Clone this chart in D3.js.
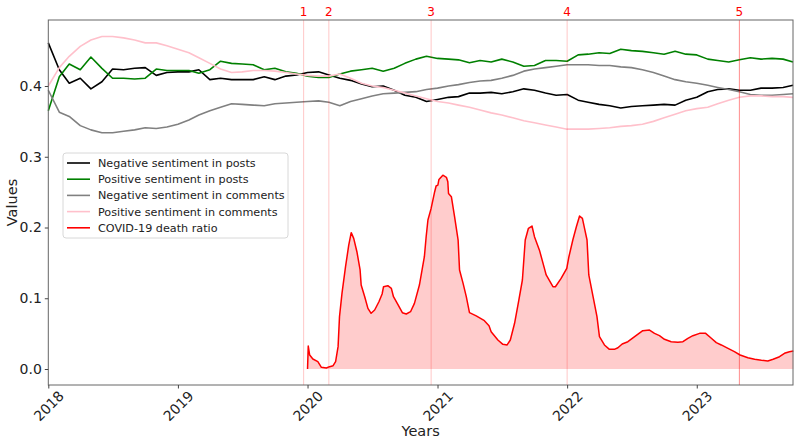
<!DOCTYPE html>
<html><head><meta charset="utf-8">
<script src="https://cdn.jsdelivr.net/npm/d3@7"></script>
<style>body{margin:0;background:#fff}svg{display:block;font-family:"DejaVu Sans",sans-serif}</style>
</head><body><svg id="chart" width="800" height="445"></svg>
<script>
const seriesNames = ["Negative sentiment in posts","Positive sentiment in posts","Negative sentiment in comments","Positive sentiment in comments","COVID-19 death ratio"];
const seriesColors = ["#000000","#008000","#808080","#ffc0cb","#ff0000"];
const startDate = "2018-01-01";
const endDate = "2023-09-29";
const negPosts = [0.461,0.423,0.404,0.411,0.396,0.406,0.424,0.423,0.425,0.426,
 0.415,0.419,0.420,0.420,0.423,0.409,0.411,0.409,0.409,0.409,
 0.413,0.409,0.414,0.4155,0.419,0.420,0.4155,0.411,0.408,0.403,
 0.399,0.400,0.394,0.387,0.384,0.378,0.381,0.384,0.385,0.390,
 0.390,0.391,0.389,0.392,0.396,0.394,0.390,0.387,0.388,0.380,
 0.377,0.374,0.372,0.369,0.371,0.372,0.373,0.374,0.373,0.380,
 0.384,0.392,0.395,0.396,0.394,0.394,0.397,0.397,0.398,0.401];
const posPosts = [0.365,0.413,0.431,0.423,0.441,0.425,0.411,0.411,0.410,0.411,
 0.424,0.422,0.422,0.422,0.418,0.423,0.435,0.432,0.431,0.430,
 0.423,0.425,0.420,0.418,0.414,0.412,0.412,0.417,0.421,0.423,
 0.425,0.421,0.425,0.432,0.438,0.442,0.439,0.438,0.437,0.433,
 0.436,0.434,0.438,0.434,0.428,0.429,0.436,0.436,0.435,0.444,
 0.445,0.447,0.446,0.452,0.450,0.449,0.447,0.445,0.449,0.445,
 0.444,0.438,0.436,0.434,0.437,0.440,0.438,0.439,0.438,0.434];
const negComments = [0.394,0.363,0.357,0.344,0.338,0.334,0.334,0.336,0.338,0.341,
 0.340,0.342,0.346,0.352,0.359,0.365,0.370,0.375,0.374,0.373,
 0.372,0.375,0.376,0.377,0.378,0.379,0.377,0.372,0.378,0.382,
 0.386,0.389,0.390,0.391,0.392,0.395,0.397,0.400,0.402,0.405,
 0.407,0.408,0.411,0.415,0.421,0.424,0.426,0.428,0.430,0.430,
 0.430,0.429,0.429,0.427,0.426,0.423,0.419,0.414,0.409,0.406,
 0.404,0.401,0.398,0.395,0.392,0.388,0.387,0.387,0.388,0.389];
const posComments = [0.400,0.426,0.442,0.456,0.465,0.470,0.470,0.468,0.465,0.461,
 0.461,0.457,0.452,0.447,0.440,0.432,0.424,0.419,0.420,0.422,
 0.422,0.421,0.419,0.417,0.415,0.414,0.414,0.417,0.411,0.404,
 0.400,0.398,0.394,0.390,0.386,0.382,0.378,0.376,0.373,0.370,
 0.366,0.362,0.359,0.355,0.351,0.348,0.345,0.342,0.339,0.339,
 0.339,0.340,0.341,0.343,0.344,0.346,0.350,0.355,0.360,0.365,
 0.368,0.370,0.375,0.380,0.384,0.386,0.386,0.385,0.385,0.384];
const covidStart = "2020-01-01";
const covidDays = [0,2,6,15,29,39,53,62,72,79,86,90,97,107,116,123,130,139,148,151,
 161,170,179,189,201,210,214,226,236,242,255,267,278,290,301,315,329,334,339,348,
 358,362,367,370,381,391,395,397,405,414,424,428,438,447,456,475,498,511,517,536,
 550,562,571,583,595,605,613,622,632,639,653,667,672,691,698,714,730,736,747,757,
 766,774,780,787,792,804,815,822,836,850,864,874,886,902,921,944,963,977,991,1005,
 1024,1043,1057,1071,1085,1104,1121,1137,1151,1165,1184,1202,1218,1240,1259,1278,1296,1311,1329,1343,
 1357,1368];
const covidValues = [0,0.0325,0.0198,0.0141,0.0104,0.0024,0.0014,0.0033,0.0047,0.0104,0.0316,0.074,0.107,0.1446,0.175,0.1927,0.1847,0.1658,0.140,0.1187,
 0.1022,0.0857,0.0787,0.0834,0.0951,0.106,0.1163,0.1178,0.114,0.1022,0.0905,0.0796,0.0777,0.081,0.0928,0.1187,0.1587,0.187,0.2106,0.227,
 0.2506,0.2587,0.260,0.268,0.274,0.271,0.2647,0.248,0.2436,0.2153,0.1823,0.140,0.121,0.1022,0.0796,0.075,0.0683,0.0612,0.0527,0.041,
 0.0349,0.034,0.041,0.0646,0.0975,0.1258,0.1823,0.1989,0.2021,0.187,0.168,0.1423,0.1329,0.1163,0.1163,0.128,0.1423,0.1587,0.1823,0.2011,
 0.2163,0.213,0.1989,0.1823,0.1329,0.1022,0.074,0.0457,0.034,0.0278,0.0278,0.030,0.0353,0.0386,0.0457,0.0542,0.0551,0.0504,0.0471,0.042,
 0.0386,0.0377,0.0386,0.0434,0.0471,0.0504,0.0504,0.0434,0.0372,0.034,0.0292,0.0245,0.0198,0.016,0.0137,0.0123,0.0113,0.0137,0.0174,0.0222,
 0.0245,0.0254];
const eventLabels = ["1","2","3","4","5"];
const eventDates = ["2019-12-21","2020-03-01","2020-12-14","2022-01-01","2023-05-01"];
const eventOpacity = [0.22,0.22,0.22,0.22,0.45];
const yTicks = [0.0,0.1,0.2,0.3,0.4];
const xTickYears = [2018,2019,2020,2021,2022,2023];

const parse = d3.utcParse("%Y-%m-%d");
const t0 = parse(startDate), t1 = parse(endDate);
const monthDates = d3.utcMonth.range(t0, t1).concat([t1]);

const svg = d3.select("#chart");
const L = 48.3, R = 793, T = 20, B = 385;
const x = d3.scaleUtc().domain([t0, t1]).range([L, R]);
const y = d3.scaleLinear().domain([-0.02261, 0.4933]).range([B, T]);

const sentiment = [negPosts, posPosts, negComments, posComments];
const line = d3.line().x(d => x(d[0])).y(d => y(d[1]));

const plot = svg.append("g");
sentiment.forEach((vals, i) => {
  plot.append("path")
    .datum(vals.map((v, j) => [monthDates[j], v]))
    .attr("d", line).attr("fill", "none")
    .attr("stroke", seriesColors[i]).attr("stroke-width", 1.6)
    .attr("stroke-linejoin", "round");
});

const cs = parse(covidStart);
const covid = covidDays.map((d, i) => [d3.utcDay.offset(cs, d), covidValues[i]]);
plot.append("path").datum(covid)
  .attr("d", d3.area().x(d => x(d[0])).y0(y(0)).y1(d => y(d[1])))
  .attr("fill", "#ff0000").attr("fill-opacity", 0.2);
plot.append("path").datum(covid).attr("d", line)
  .attr("fill", "none").attr("stroke", seriesColors[4]).attr("stroke-width", 1.5)
  .attr("stroke-linejoin", "round");

eventDates.forEach((d, i) => {
  const xx = x(parse(d));
  svg.append("line").attr("x1", xx).attr("x2", xx).attr("y1", T).attr("y2", B)
    .attr("stroke", "#ff0000").attr("stroke-opacity", eventOpacity[i]).attr("stroke-width", 1);
  svg.append("text").attr("x", xx).attr("y", 16).attr("text-anchor", "middle")
    .attr("fill", "#ff0000").attr("font-size", 12).text(eventLabels[i]);
});

// spines
svg.append("rect").attr("x", L).attr("y", T).attr("width", R - L).attr("height", B - T)
  .attr("fill", "none").attr("stroke", "#666").attr("stroke-width", 1);

// y axis
const yAxis = svg.append("g").attr("transform", `translate(${L},0)`)
  .call(d3.axisLeft(y).tickValues(yTicks).tickFormat(d3.format(".1f")).tickSizeOuter(0).tickSize(3.5).tickPadding(3));
yAxis.select(".domain").remove();
yAxis.selectAll("line").attr("stroke", "#444");
yAxis.selectAll("text").attr("font-size", 14).attr("fill", "#222").attr("font-family", "DejaVu Sans");

// x axis
const xTickDates = xTickYears.map(yr => parse(yr + "-01-01"));
const xAxis = svg.append("g").attr("transform", `translate(0,${B})`)
  .call(d3.axisBottom(x).tickValues(xTickDates).tickFormat(d3.utcFormat("%Y")).tickSizeOuter(0).tickSize(3.5));
xAxis.select(".domain").remove();
xAxis.selectAll("line").attr("stroke", "#444");
xAxis.selectAll("text")
  .attr("font-size", 14).attr("fill", "#222").attr("font-family", "DejaVu Sans")
  .attr("text-anchor", "middle").attr("dy", "0.35em").attr("y", 0)
  .attr("transform", "translate(0,21) rotate(-45)");

svg.append("text").attr("x", (L + R) / 2).attr("y", 436).attr("text-anchor", "middle")
  .attr("font-size", 14.5).attr("fill", "#222").text("Years");
svg.append("text").attr("transform", `translate(17,${(T + B) / 2}) rotate(-90)`)
  .attr("text-anchor", "middle").attr("font-size", 14.5).attr("fill", "#222").text("Values");

// legend
const lg = svg.append("g").attr("transform", "translate(63,153)");
lg.append("rect").attr("width", 225).attr("height", 85).attr("rx", 3)
  .attr("fill", "#fff").attr("fill-opacity", 0.8).attr("stroke", "#d8d8d8");
seriesNames.forEach((n, i) => {
  const yy = 10 + i * 16.2;
  lg.append("line").attr("x1", 4).attr("x2", 27).attr("y1", yy).attr("y2", yy)
    .attr("stroke", seriesColors[i]).attr("stroke-width", 1.6);
  lg.append("text").attr("x", 35).attr("y", yy).attr("dy", "0.35em")
    .attr("font-size", 11.2).attr("fill", "#222").text(n);
});
</script></body></html>
